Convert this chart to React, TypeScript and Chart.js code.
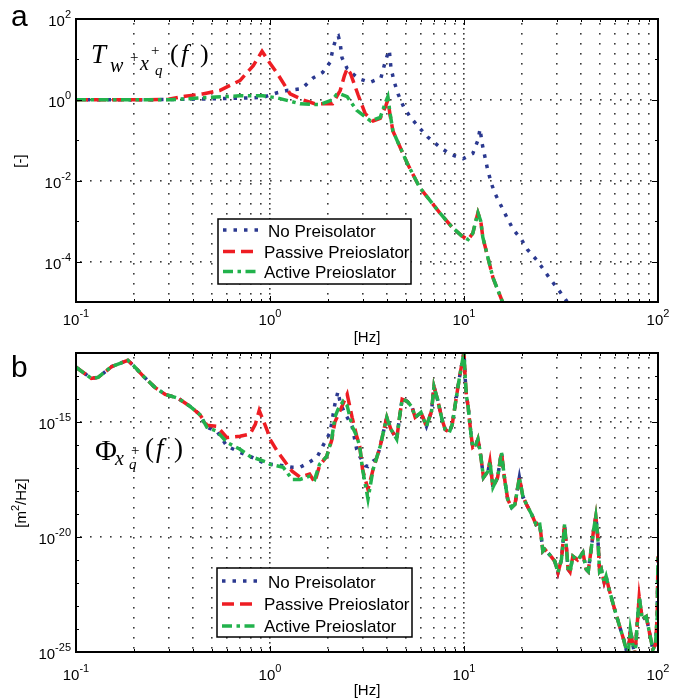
import React, { useEffect, useRef } from "react";
import { Chart, registerables } from "chart.js";
Chart.register(...registerables);

// ---------- series styling ----------
const SERIES_LABELS = ["No Preisolator", "Passive Preioslator", "Active Preioslator"];
const SERIES_COLORS = ["#2b3990", "#ee1d23", "#22b24c"];
const SERIES_DASH = [[3.5, 7], [12, 6], [10, 4.5, 3.5, 4.5]];

// ---------- panel a : transfer function ----------
const aNoFreq = [0.1, 0.2, 0.3, 0.5, 0.7, 0.92, 1.09, 1.22, 1.46, 1.67, 1.87, 2.04, 2.12, 2.2, 2.25, 2.3, 2.35, 2.5, 2.84, 3.27, 3.73, 3.9, 4.05, 4.12, 4.2, 4.35, 4.57, 4.9, 5.3, 5.86, 6.5, 7.5, 8.5, 9.9, 11.1, 11.8, 12.1, 12.4, 13.2, 13.8, 14.4, 15.6, 16.6, 17.9, 19.8, 21.2, 23.8, 27.7, 30.5, 33.6, 38];
const aNoT = [1.0, 1.0, 1.02, 1.06, 1.1, 1.15, 1.5, 1.7, 1.9, 3.5, 4.8, 8.5, 20, 35, 38, 25, 11, 5.9, 3.4, 2.7, 3.5, 7.8, 14, 17, 6.3, 3.0, 1.4, 0.65, 0.37, 0.21, 0.12, 0.068, 0.045, 0.035, 0.047, 0.1, 0.19, 0.083, 0.02, 0.0089, 0.005, 0.0023, 0.00126, 6.3e-4, 3.5e-4, 2e-4, 1.07e-4, 3.8e-5, 2.1e-5, 1.1e-5, 4e-6];

const aPassiveLowFreq = [0.1, 0.2, 0.3, 0.365, 0.45, 0.55, 0.7, 0.82, 0.91, 1.0, 1.09, 1.27, 1.48, 1.7, 2.1, 2.3, 2.42, 2.5, 2.6, 2.85, 3.1, 3.4, 3.7, 3.95, 4.05, 4.15];
const aPassiveLowT = [1.0, 1.0, 1.03, 1.23, 1.4, 1.7, 3.0, 7, 16, 8, 4.5, 1.4, 1.0, 0.8, 0.8, 1.7, 4, 6, 4.5, 1.3, 0.45, 0.3, 0.35, 0.7, 1.0, 0.45];

const aActiveLowFreq = [0.1, 0.3, 0.44, 0.7, 0.92, 1.09, 1.43, 1.8, 2.1, 2.2, 2.3, 2.5, 2.8, 3.3, 3.7, 3.95, 4.05, 4.15];
const aActiveLowT = [1.0, 1.0, 1.12, 1.26, 1.26, 1.12, 0.8, 0.76, 1.0, 1.35, 1.4, 1.2, 0.55, 0.3, 0.37, 0.9, 1.2, 0.5];

const aTailFreq = [4.3, 5.1, 5.9, 7.5, 8.7, 9.8, 10.5, 11.1, 11.5, 11.8, 12.2, 12.5, 14.1, 15.8, 18];
const aTailT = [0.17, 0.027, 0.0069, 0.0016, 7e-4, 4.2e-4, 3.5e-4, 5e-4, 1e-3, 1.6e-3, 1e-3, 4e-4, 4e-5, 1e-5, 3e-6];

// ---------- panel b : PSD ----------
const bHeadFreq = [0.1, 0.12, 0.13, 0.153, 0.175, 0.185, 0.2, 0.22, 0.255, 0.288, 0.336, 0.387, 0.435];
const bHeadPsd = [2.4e-13, 7.9e-14, 8.7e-14, 2.6e-13, 4.0e-13, 4.8e-13, 2.6e-13, 1.07e-13, 3.2e-14, 1.6e-14, 1.07e-14, 4.8e-15, 2.1e-15];

const bNoMidFreq = [0.473, 0.532, 0.6, 0.7, 0.79, 0.96, 1.0, 1.17, 1.3, 1.43, 1.6, 1.75, 1.87, 2.04, 2.16, 2.24, 2.3, 2.4, 2.65, 2.8, 2.9, 3.1, 3.2, 3.4, 3.55, 3.7];
const bNoMidPsd = [5.9e-16, 4.0e-16, 8.9e-17, 4.8e-17, 3.2e-17, 1.45e-17, 1.45e-17, 1.26e-17, 1.07e-17, 1.07e-17, 1.8e-17, 3.0e-17, 8.9e-17, 3.5e-16, 5.9e-15, 2.1e-14, 7.1e-15, 3.0e-15, 6.5e-16, 6.3e-17, 3.2e-17, 1.26e-17, 1.17e-17, 2.0e-17, 2.5e-17, 8.9e-17];

const bPassiveMidFreq = [0.473, 0.532, 0.6, 0.7, 0.79, 0.84, 0.88, 0.93, 0.97, 1.0, 1.09, 1.19, 1.3, 1.43, 1.6, 1.7, 1.8, 1.96, 2.08, 2.16, 2.3, 2.5, 2.65, 2.8, 2.9, 3.0, 3.2, 3.4, 3.7];
const bPassiveMidPsd = [7.2e-16, 6.5e-16, 2.1e-16, 2.4e-16, 3.0e-16, 7.9e-16, 3.2e-15, 1.0e-15, 4.0e-16, 1.8e-16, 5.4e-17, 1.95e-17, 7.2e-18, 4.0e-18, 5.4e-18, 2.4e-18, 1.26e-17, 3.2e-17, 1.6e-16, 1.0e-15, 3.2e-15, 1.6e-14, 1.6e-15, 2.4e-16, 8.9e-17, 8.7e-18, 1.17e-18, 8.7e-18, 8.9e-17];

const bActiveMidFreq = [0.473, 0.532, 0.6, 0.7, 0.79, 0.96, 1.0, 1.17, 1.3, 1.43, 1.6, 1.7, 1.8, 1.96, 2.08, 2.16, 2.24, 2.38, 2.5, 2.65, 2.8, 2.9, 3.0, 3.2, 3.4, 3.7];
const bActiveMidPsd = [5.9e-16, 4.0e-16, 1.3e-16, 6.5e-17, 3.2e-17, 1.8e-17, 1.45e-17, 1.07e-17, 3.2e-18, 3.2e-18, 4.4e-18, 3.2e-18, 1.45e-17, 3.2e-17, 1.8e-16, 1.6e-15, 3.5e-15, 7.9e-15, 5.0e-15, 6.5e-16, 2.4e-16, 8.9e-17, 8.7e-18, 4.4e-19, 8.7e-18, 8.9e-17];

const bTailFreq = [3.9, 4.0, 4.2, 4.5, 4.66, 4.8, 5.1, 5.4, 5.6, 6.0, 6.4, 6.8, 7.0, 7.3, 7.7, 8.0, 8.4, 8.7, 9.1, 9.5, 10.0, 10.15, 10.3, 10.5, 10.7, 10.9, 11.1, 11.5, 11.8, 12.1, 12.3, 12.6, 13.3, 13.6, 14.1, 14.9, 15.6, 16.2, 16.8, 17.6, 18.3, 19.3, 20.1, 21.0, 22.3, 23.5, 24.5, 25.0, 25.5, 26.1, 27.8, 29.4, 30.5, 31.8, 32.5, 33.0, 34.4, 35.2, 36.4, 38.5, 41.0, 42.6, 43.7, 45.0, 46.6, 47.8, 48.5, 49.0, 50.0, 51.0, 52.8, 54.0, 56.0, 59.8, 62.5, 66.5, 70.0, 72.0, 76.0, 80.0, 83.0, 87.0, 92.5, 94.0, 97.0, 99.0, 100];
const bTailPsd = [6.5e-16, 1.6e-15, 4.8e-16, 1.8e-16, 1.8e-15, 9.8e-15, 7.9e-15, 4.4e-15, 1.6e-15, 2.6e-15, 6.5e-16, 2.9e-15, 3.5e-14, 9.8e-15, 1.3e-15, 4.8e-16, 3.5e-16, 7.9e-16, 9.8e-15, 9.8e-14, 1.1e-12, 7.2e-14, 1.3e-14, 4.8e-15, 9.8e-16, 2.4e-16, 7.9e-17, 1.0e-16, 1.8e-16, 5.4e-17, 1.95e-17, 3.9e-18, 7.2e-18, 1.95e-17, 1.45e-18, 3.9e-18, 4.8e-17, 3.2e-18, 4.4e-19, 1.9e-19, 2.6e-19, 3.9e-18, 5.9e-19, 2.6e-19, 9.8e-20, 3.5e-20, 4.4e-20, 1.07e-20, 2.4e-21, 2.9e-21, 1.6e-21, 8.7e-22, 2.8e-22, 1.07e-21, 7.9e-21, 3.5e-20, 4.0e-22, 3.0e-22, 1.45e-21, 1.0e-21, 2.1e-21, 4.0e-22, 3.2e-22, 2.1e-21, 2.1e-20, 7.9e-20, 2.5e-20, 7.9e-21, 3.2e-22, 4.0e-22, 1.07e-22, 1.95e-22, 5.2e-23, 7.1e-24, 1.95e-24, 3.5e-25, 6.3e-26, 9.5e-25, 6.3e-26, 2.5e-23, 2.6e-24, 3.5e-24, 2.6e-25, 1.26e-25, 2.1e-25, 3.2e-24, 1.45e-21];

// ---------- axes ----------
const X_DECADES = [0.1, 1, 10, 100];
const X_DECADE_EXP = ["-1", "0", "1", "2"];
const A_Y_EXP_RANGE = [-5, 2];
const A_Y_MAJOR_EXP = [-4, -2, 0, 2];
const B_Y_EXP_RANGE = [-25, -12];
const B_Y_MAJOR_EXP = [-25, -20, -15];

const SANS = '"Liberation Sans", Arial, Helvetica, sans-serif';
const SERIF = '"Liberation Serif", "Times New Roman", serif';

function pts(f: number[], v: number[]) {
  return f.map((x, i) => ({ x, y: v[i] }));
}

type Seg = { t: string; font: string; dy?: number };
function drawSegs(ctx: CanvasRenderingContext2D, segs: Seg[], x: number, y: number, align: "left" | "center" | "right") {
  const widths = segs.map((s) => {
    ctx.font = s.font;
    return ctx.measureText(s.t).width;
  });
  const total = widths.reduce((a, b) => a + b, 0);
  let cx = align === "left" ? x : align === "center" ? x - total / 2 : x - total;
  ctx.textAlign = "left";
  ctx.textBaseline = "alphabetic";
  segs.forEach((s, i) => {
    ctx.font = s.font;
    ctx.fillText(s.t, cx, y + (s.dy || 0));
    cx += widths[i];
  });
}

type MathItem = { t: string; font: string; x: number; y: number };
type PanelCfg = {
  letter: string;
  letterY: number;
  yExpRange: number[];
  yMajorExp: number[];
  xLabelBaseline: number;
  xTitleBaseline: number;
  yTitle: Seg[];
  yTitleX: number;
  yTitleY: number;
  legend: { x: number; y: number; w: number; h: number; lineY: number[]; textY: number[]; textX: number[] };
  math: MathItem[];
};

function xGridValues() {
  const out: number[] = [];
  for (const d of [0.1, 1, 10]) for (let k = 1; k <= 9; k++) out.push(d * k);
  out.push(100);
  return out;
}

function makeDecor(cfg: PanelCfg) {
  return {
    id: "decor-" + cfg.letter,
    beforeDatasetsDraw(chart: any) {
      const ctx: CanvasRenderingContext2D = chart.ctx;
      const { left, right, top, bottom } = chart.chartArea;
      const xs = chart.scales.x;
      const ys = chart.scales.y;
      ctx.save();
      ctx.fillStyle = "#3a3a3a";
      const vals = xGridValues();
      vals.forEach((v, i) => {
        if (i === 0 || i === vals.length - 1) return;
        const px = Math.round(xs.getPixelForValue(v));
        const isDec = i % 9 === 0;
        const pitch = isDec ? 5 : 10;
        for (let y = top + 4; y < bottom - 2; y += pitch) ctx.fillRect(px - 1, Math.round(y), 1.6, 1.6);
      });
      for (const e of cfg.yMajorExp) {
        if (e === cfg.yExpRange[0] || e === cfg.yExpRange[1]) continue;
        const py = Math.round(ys.getPixelForValue(Math.pow(10, e)));
        for (let x = left + 4; x < right - 2; x += 10) ctx.fillRect(Math.round(x), py - 1, 1.6, 1.6);
      }
      ctx.restore();
    },
    afterDatasetsDraw(chart: any) {
      const ctx: CanvasRenderingContext2D = chart.ctx;
      const { left, right, top, bottom } = chart.chartArea;
      const xs = chart.scales.x;
      const ys = chart.scales.y;
      ctx.save();
      ctx.strokeStyle = "#000";
      ctx.fillStyle = "#000";
      ctx.setLineDash([]);
      ctx.lineWidth = 2;
      ctx.strokeRect(left, top, right - left, bottom - top);
      ctx.lineWidth = 1;
      const vals = xGridValues();
      vals.forEach((v, i) => {
        const px = Math.round(xs.getPixelForValue(v)) + 0.5;
        const len = i % 9 === 0 ? 6 : 3;
        ctx.beginPath();
        ctx.moveTo(px, bottom);
        ctx.lineTo(px, bottom - len);
        ctx.moveTo(px, top);
        ctx.lineTo(px, top + len);
        ctx.stroke();
      });
      for (let e = cfg.yExpRange[0]; e <= cfg.yExpRange[1]; e++) {
        const py = Math.round(ys.getPixelForValue(Math.pow(10, e))) + 0.5;
        const len = cfg.yMajorExp.includes(e) ? 6 : 3;
        ctx.beginPath();
        ctx.moveTo(left, py);
        ctx.lineTo(left + len, py);
        ctx.moveTo(right, py);
        ctx.lineTo(right - len, py);
        ctx.stroke();
      }
      const F = "15px " + SANS;
      const FE = "11px " + SANS;
      X_DECADES.forEach((v, i) => {
        const px = xs.getPixelForValue(v);
        drawSegs(ctx, [{ t: "10", font: F }, { t: X_DECADE_EXP[i], font: FE, dy: -8 }], px, cfg.xLabelBaseline, "center");
      });
      cfg.yMajorExp.forEach((e) => {
        const py = ys.getPixelForValue(Math.pow(10, e));
        drawSegs(ctx, [{ t: "10", font: F }, { t: String(e), font: FE, dy: -8 }], 71, py + 7, "right");
      });
      drawSegs(ctx, [{ t: "[Hz]", font: F }], (left + right) / 2, cfg.xTitleBaseline, "center");
      ctx.save();
      ctx.translate(cfg.yTitleX, cfg.yTitleY);
      ctx.rotate(-Math.PI / 2);
      drawSegs(ctx, cfg.yTitle, 0, 5, "center");
      ctx.restore();
      drawSegs(ctx, [{ t: cfg.letter, font: "30px " + SANS }], 11, cfg.letterY, "left");
      ctx.textAlign = "left";
      ctx.textBaseline = "alphabetic";
      cfg.math.forEach((m) => {
        ctx.font = m.font;
        ctx.fillText(m.t, m.x, m.y);
      });
      const L = cfg.legend;
      ctx.fillStyle = "#fff";
      ctx.fillRect(L.x, L.y, L.w, L.h);
      ctx.strokeStyle = "#000";
      ctx.lineWidth = 1.5;
      ctx.strokeRect(L.x, L.y, L.w, L.h);
      SERIES_LABELS.forEach((lab, i) => {
        ctx.strokeStyle = SERIES_COLORS[i];
        ctx.lineWidth = 3.5;
        ctx.setLineDash(SERIES_DASH[i]);
        ctx.beginPath();
        ctx.moveTo(L.x + 5, L.lineY[i]);
        ctx.lineTo(L.x + 41, L.lineY[i]);
        ctx.stroke();
        ctx.setLineDash([]);
        ctx.fillStyle = "#000";
        drawSegs(ctx, [{ t: lab, font: "17px " + SANS }], L.textX[i], L.textY[i], "left");
      });
      ctx.restore();
    },
  };
}

function makeDatasets(series: { x: number; y: number }[][]) {
  return series.map((data, i) => ({
    label: SERIES_LABELS[i],
    data,
    borderColor: SERIES_COLORS[i],
    backgroundColor: SERIES_COLORS[i],
    borderWidth: 3.5,
    borderDash: SERIES_DASH[i],
    borderCapStyle: "butt" as const,
    pointRadius: 0,
    fill: false,
    tension: 0,
    clip: 0,
    order: 3 - i,
  }));
}

function makeConfig(datasets: any[], yMin: number, yMax: number, padTop: number, padBottom: number, decor: any) {
  return {
    type: "line" as const,
    data: { datasets },
    options: {
      animation: false as const,
      responsive: false,
      maintainAspectRatio: false,
      devicePixelRatio: 1,
      events: [],
      layout: { padding: { left: 76, right: 19, top: padTop, bottom: padBottom } },
      scales: {
        x: { type: "logarithmic" as const, min: 0.1, max: 100, display: false },
        y: { type: "logarithmic" as const, min: yMin, max: yMax, display: false },
      },
      plugins: { legend: { display: false }, tooltip: { enabled: false } },
    },
    plugins: [decor],
  };
}

const S = "15px " + SANS;

const cfgA: PanelCfg = {
  letter: "a",
  letterY: 26,
  yExpRange: A_Y_EXP_RANGE,
  yMajorExp: A_Y_MAJOR_EXP,
  xLabelBaseline: 325,
  xTitleBaseline: 341.5,
  yTitle: [{ t: "[-]", font: S }],
  yTitleX: 20,
  yTitleY: 161,
  legend: { x: 218, y: 219, w: 193, h: 65, lineY: [230, 251.5, 271.5], textY: [237, 258, 278], textX: [268, 264, 264] },
  math: [
    { t: "T", font: "italic 27px " + SERIF, x: 91, y: 63 },
    { t: "w", font: "italic 20px " + SERIF, x: 110, y: 72 },
    { t: "+", font: "15px " + SERIF, x: 130, y: 62 },
    { t: "x", font: "italic 20px " + SERIF, x: 140, y: 70 },
    { t: "+", font: "15px " + SERIF, x: 151, y: 55 },
    { t: "q", font: "italic 15px " + SERIF, x: 155, y: 75 },
    { t: "(", font: "26px " + SERIF, x: 170, y: 62 },
    { t: "f", font: "italic 26px " + SERIF, x: 181, y: 62 },
    { t: ")", font: "26px " + SERIF, x: 200, y: 62 },
  ],
};

const cfgB: PanelCfg = {
  letter: "b",
  letterY: 28,
  yExpRange: B_Y_EXP_RANGE,
  yMajorExp: B_Y_MAJOR_EXP,
  xLabelBaseline: 331,
  xTitleBaseline: 345.5,
  yTitle: [
    { t: "[m", font: S },
    { t: "2", font: "11px " + SANS, dy: -7 },
    { t: "/Hz]", font: S },
  ],
  yTitleX: 21,
  yTitleY: 154,
  legend: { x: 217, y: 219, w: 195, h: 69, lineY: [232, 255, 277], textY: [238.5, 261, 283], textX: [268, 264, 264] },
  math: [
    { t: "Φ", font: "30px " + SERIF, x: 95, y: 111 },
    { t: "x", font: "italic 20px " + SERIF, x: 115, y: 116 },
    { t: "+", font: "15px " + SERIF, x: 131, y: 106 },
    { t: "q", font: "italic 15px " + SERIF, x: 129, y: 120 },
    { t: "(", font: "27px " + SERIF, x: 145, y: 108 },
    { t: "f", font: "italic 27px " + SERIF, x: 156, y: 108 },
    { t: ")", font: "27px " + SERIF, x: 174, y: 108 },
  ],
};

export default function App() {
  const refA = useRef<HTMLCanvasElement | null>(null);
  const refB = useRef<HTMLCanvasElement | null>(null);

  useEffect(() => {
    const seriesA = [
      pts(aNoFreq, aNoT),
      pts(aPassiveLowFreq.concat(aTailFreq), aPassiveLowT.concat(aTailT)),
      pts(aActiveLowFreq.concat(aTailFreq), aActiveLowT.concat(aTailT)),
    ];
    const seriesB = [
      pts(bHeadFreq.concat(bNoMidFreq, bTailFreq), bHeadPsd.concat(bNoMidPsd, bTailPsd)),
      pts(bHeadFreq.concat(bPassiveMidFreq, bTailFreq), bHeadPsd.concat(bPassiveMidPsd, bTailPsd)),
      pts(bHeadFreq.concat(bActiveMidFreq, bTailFreq), bHeadPsd.concat(bActiveMidPsd, bTailPsd)),
    ];
    const chartA = new Chart(
      refA.current as HTMLCanvasElement,
      makeConfig(makeDatasets(seriesA), Math.pow(10, A_Y_EXP_RANGE[0]), Math.pow(10, A_Y_EXP_RANGE[1]), 19, 47, makeDecor(cfgA)) as any
    );
    const chartB = new Chart(
      refB.current as HTMLCanvasElement,
      makeConfig(makeDatasets(seriesB), Math.pow(10, B_Y_EXP_RANGE[0]), Math.pow(10, B_Y_EXP_RANGE[1]), 4, 47, makeDecor(cfgB)) as any
    );
    return () => {
      chartA.destroy();
      chartB.destroy();
    };
  }, []);

  return (
    <div style={{ position: "absolute", left: 0, top: 0, width: 677, height: 699, background: "#fff" }}>
      <canvas ref={refA} width={677} height={349} style={{ position: "absolute", left: 0, top: 0, display: "block" }} />
      <canvas ref={refB} width={677} height={350} style={{ position: "absolute", left: 0, top: 349, display: "block" }} />
    </div>
  );
}
